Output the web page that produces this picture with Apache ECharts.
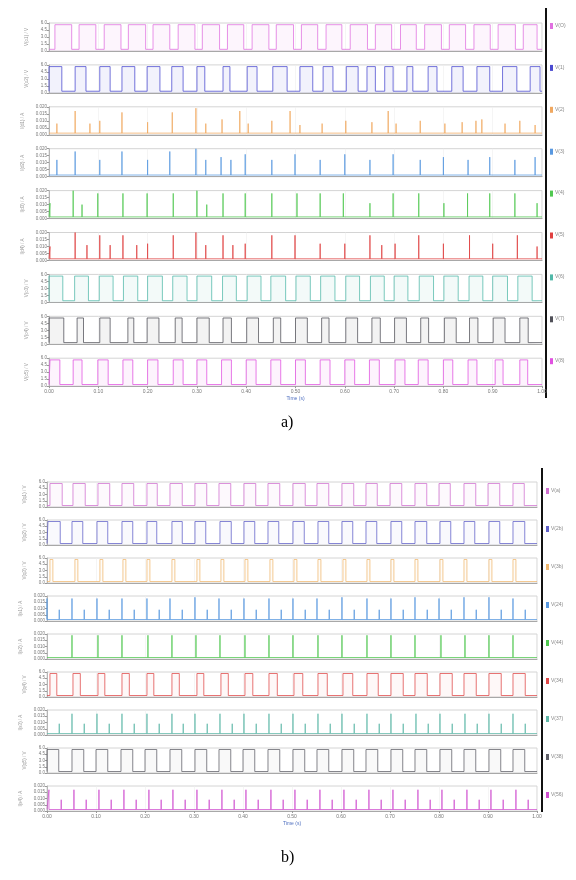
<!DOCTYPE html>
<html><head><meta charset="utf-8">
<script src="https://cdn.jsdelivr.net/npm/echarts@6.0.0/dist/echarts.min.js"></script>
<style>html,body{margin:0;padding:0;background:#fff}#c{width:576px;height:880px}</style>
</head><body><div id="c"></div>
<script>
// ---------- shared axis ticks ----------
const xTicks = ["0.00","0.10","0.20","0.30","0.40","0.50","0.60","0.70","0.80","0.90","1.00"];
const yTicksPulse = ["0.0","1.5","3.0","4.5","6.0"];
const yTicksSpike = ["0.000","0.005","0.010","0.015","0.020"];

// ---------- panel a) ----------
const aNames  = ["V(O)","V(1)","V(2)","V(3)","V(4)","V(5)","V(6)","V(7)","V(8)"];
const aYNames = ["V(o1) / V","V(o2) / V","I(d1) / A","I(d2) / A","I(d3) / A","I(d4) / A","V(o3) / V","V(o4) / V","V(o5) / V"];
const aKinds  = ["pulse","pulse","spike","spike","spike","spike","pulse","pulse","pulse"];
// square waves: alternating rising / falling edge times
const a1 = [0.012,0.046, 0.061,0.095, 0.112,0.146, 0.161,0.196, 0.211,0.245, 0.262,0.296, 0.311,0.346, 0.362,0.395, 0.412,0.446, 0.461,0.496, 0.512,0.545, 0.562,0.594, 0.611,0.646, 0.662,0.695, 0.713,0.745, 0.762,0.796, 0.812,0.845, 0.862,0.895, 0.911,0.946, 0.962,0.99];
const a2 = [0.0,0.026, 0.053,0.075, 0.103,0.124, 0.148,0.174, 0.199,0.225, 0.249,0.272, 0.3,0.316, 0.353,0.367, 0.402,0.422, 0.454,0.483, 0.509,0.535, 0.556,0.576, 0.603,0.627, 0.645,0.662, 0.681,0.698, 0.726,0.738, 0.769,0.787, 0.817,0.84, 0.868,0.894, 0.92,0.949, 0.976,0.996];
// spikes: [time, height]
const a3 = [[0.016,0.4],[0.053,0.85],[0.083,0.4],[0.103,0.5],[0.148,0.8],[0.2,0.45],[0.25,0.8],[0.298,0.95],[0.318,0.4],[0.351,0.55],[0.387,0.85],[0.404,0.4],[0.452,0.5],[0.489,0.85],[0.509,0.35],[0.554,0.4],[0.602,0.5],[0.655,0.45],[0.688,0.85],[0.704,0.4],[0.753,0.5],[0.803,0.4],[0.838,0.45],[0.866,0.5],[0.878,0.55],[0.925,0.4],[0.955,0.5],[0.986,0.35]];
const a4 = [[0.016,0.6],[0.053,0.9],[0.103,0.6],[0.148,0.9],[0.2,0.6],[0.245,0.9],[0.298,1.0],[0.318,0.6],[0.349,0.7],[0.369,0.6],[0.398,0.8],[0.452,0.6],[0.499,0.8],[0.55,0.6],[0.6,0.8],[0.651,0.6],[0.698,0.8],[0.753,0.6],[0.8,0.7],[0.85,0.6],[0.894,0.7],[0.945,0.6],[0.986,0.7]];
const a5 = [[0.002,0.55],[0.049,1.0],[0.067,0.5],[0.099,0.9],[0.15,0.9],[0.199,0.9],[0.252,0.9],[0.300,1.0],[0.32,0.5],[0.353,0.9],[0.398,0.9],[0.452,0.9],[0.503,0.9],[0.55,0.9],[0.597,0.9],[0.651,0.55],[0.698,0.9],[0.75,0.9],[0.801,0.55],[0.849,0.9],[0.894,0.9],[0.945,0.9],[0.99,0.55]];
const a6 = [[0.002,0.5],[0.053,1.0],[0.077,0.55],[0.103,0.9],[0.124,0.55],[0.15,0.9],[0.178,0.55],[0.2,0.6],[0.252,0.9],[0.298,1.0],[0.318,0.55],[0.353,0.9],[0.373,0.55],[0.398,0.6],[0.452,0.9],[0.499,0.9],[0.55,0.6],[0.6,0.6],[0.651,0.9],[0.675,0.55],[0.702,0.6],[0.75,0.9],[0.8,0.6],[0.853,0.9],[0.9,0.6],[0.95,0.9],[0.99,0.5]];
const a7 = [0.0,0.028, 0.052,0.08, 0.102,0.13, 0.151,0.18, 0.2,0.23, 0.251,0.28, 0.3,0.33, 0.352,0.38, 0.402,0.43, 0.45,0.48, 0.501,0.53, 0.551,0.58, 0.602,0.63, 0.652,0.68, 0.7,0.728, 0.751,0.78, 0.801,0.83, 0.852,0.88, 0.9,0.93, 0.951,0.98];
const a8 = [0.0,0.03, 0.057,0.07, 0.103,0.124, 0.16,0.172, 0.199,0.223, 0.256,0.27, 0.3,0.325, 0.353,0.37, 0.401,0.425, 0.455,0.47, 0.5,0.524, 0.553,0.568, 0.602,0.626, 0.655,0.672, 0.701,0.725, 0.754,0.77, 0.802,0.826, 0.853,0.87, 0.901,0.925, 0.955,0.972];
const a9 = [0.002,0.022, 0.049,0.067, 0.099,0.12, 0.15,0.17, 0.2,0.221, 0.252,0.272, 0.3,0.32, 0.35,0.37, 0.4,0.42, 0.45,0.47, 0.5,0.52, 0.55,0.57, 0.6,0.62, 0.65,0.67, 0.702,0.722, 0.749,0.769, 0.8,0.819, 0.85,0.868, 0.905,0.921, 0.955,0.971];

// ---------- panel b) ----------
const bNames  = ["V(a)","V(2b)","V(3b)","V(24)","V(44)","V(34)","V(37)","V(38)","V(56)"];
const bYNames = ["V(q1) / V","V(q2) / V","V(q3) / V","I(s1) / A","I(s2) / A","V(q4) / V","I(s3) / A","V(q5) / V","I(s4) / A"];
const bKinds  = ["pulse","pulse","pulse","spike","spike","pulse","spike","pulse","spike"];
const b1 = [0.006,0.031, 0.053,0.078, 0.104,0.128, 0.153,0.177, 0.204,0.225, 0.251,0.276, 0.302,0.326, 0.351,0.375, 0.402,0.426, 0.451,0.475, 0.502,0.527, 0.551,0.575, 0.602,0.626, 0.651,0.674, 0.700,0.724, 0.751,0.775, 0.800,0.823, 0.851,0.875, 0.900,0.924, 0.951,0.974];
const b2 = [0.002,0.027, 0.051,0.073, 0.102,0.124, 0.153,0.175, 0.204,0.224, 0.255,0.276, 0.302,0.324, 0.353,0.376, 0.402,0.424, 0.451,0.473, 0.502,0.525, 0.553,0.575, 0.602,0.624, 0.651,0.673, 0.702,0.724, 0.751,0.775, 0.802,0.824, 0.851,0.873, 0.902,0.924, 0.951,0.975];
const b3 = [0.006,0.012, 0.057,0.063, 0.108,0.114, 0.155,0.161, 0.204,0.21, 0.255,0.261, 0.306,0.312, 0.355,0.361, 0.404,0.41, 0.455,0.461, 0.504,0.51, 0.553,0.559, 0.604,0.61, 0.653,0.659, 0.702,0.708, 0.751,0.757, 0.802,0.808, 0.851,0.857, 0.902,0.908, 0.951,0.957];
const b4 = [[0.0,0.9],[0.025,0.45],[0.051,0.9],[0.076,0.45],[0.102,0.9],[0.127,0.45],[0.153,0.9],[0.178,0.45],[0.204,0.9],[0.229,0.45],[0.251,0.9],[0.276,0.45],[0.302,0.95],[0.327,0.45],[0.351,0.9],[0.376,0.45],[0.402,0.9],[0.427,0.45],[0.453,0.9],[0.478,0.45],[0.502,0.9],[0.527,0.45],[0.551,0.9],[0.576,0.45],[0.602,0.95],[0.627,0.45],[0.653,0.9],[0.678,0.45],[0.702,0.9],[0.727,0.45],[0.751,0.95],[0.776,0.45],[0.8,0.9],[0.825,0.45],[0.851,0.95],[0.876,0.45],[0.902,0.95],[0.927,0.45],[0.951,0.9],[0.976,0.45]];
const b5 = [[0.051,0.95],[0.104,0.95],[0.153,0.95],[0.206,0.95],[0.255,0.95],[0.304,0.95],[0.353,0.95],[0.404,0.95],[0.453,0.95],[0.502,0.95],[0.553,0.95],[0.602,0.95],[0.653,0.95],[0.702,0.95],[0.751,0.95],[0.804,0.95],[0.853,0.95],[0.902,0.95],[0.951,0.95]];
const b6 = [0.006,0.02, 0.053,0.068, 0.104,0.118, 0.153,0.168, 0.204,0.218, 0.255,0.27, 0.306,0.32, 0.355,0.37, 0.404,0.42, 0.453,0.47, 0.504,0.522, 0.553,0.572, 0.604,0.624, 0.653,0.676, 0.702,0.727, 0.751,0.776, 0.802,0.827, 0.851,0.876, 0.902,0.927, 0.951,0.976];
const b7 = [[0.025,0.45],[0.051,0.85],[0.076,0.45],[0.102,0.85],[0.127,0.45],[0.153,0.85],[0.178,0.45],[0.204,0.85],[0.229,0.45],[0.255,0.85],[0.278,0.45],[0.302,0.85],[0.327,0.45],[0.353,0.85],[0.378,0.45],[0.402,0.85],[0.427,0.45],[0.453,0.85],[0.478,0.45],[0.502,0.85],[0.527,0.45],[0.553,0.85],[0.578,0.45],[0.602,0.85],[0.627,0.45],[0.653,0.85],[0.678,0.45],[0.702,0.85],[0.727,0.45],[0.753,0.85],[0.778,0.45],[0.802,0.85],[0.827,0.45],[0.853,0.85],[0.878,0.45],[0.902,0.85],[0.927,0.45],[0.951,0.85],[0.976,0.45]];
const b8 = [0.0,0.024, 0.051,0.075, 0.1,0.124, 0.151,0.175, 0.2,0.224, 0.251,0.275, 0.302,0.326, 0.351,0.375, 0.4,0.424, 0.451,0.475, 0.502,0.526, 0.551,0.575, 0.602,0.626, 0.651,0.675, 0.702,0.726, 0.751,0.775, 0.802,0.826, 0.851,0.875, 0.902,0.926, 0.951,0.975];
const b9 = [[0.004,0.85],[0.029,0.45],[0.055,0.85],[0.08,0.45],[0.106,0.85],[0.131,0.45],[0.157,0.85],[0.182,0.45],[0.208,0.85],[0.233,0.45],[0.257,0.85],[0.282,0.45],[0.306,0.85],[0.331,0.45],[0.357,0.85],[0.382,0.45],[0.406,0.85],[0.431,0.45],[0.457,0.85],[0.482,0.45],[0.506,0.85],[0.531,0.45],[0.557,0.85],[0.582,0.45],[0.606,0.85],[0.631,0.45],[0.657,0.85],[0.682,0.45],[0.706,0.85],[0.731,0.45],[0.757,0.85],[0.782,0.45],[0.806,0.85],[0.831,0.45],[0.857,0.85],[0.882,0.45],[0.906,0.85],[0.931,0.45],[0.957,0.85],[0.982,0.45]];

const aData = [a1,a2,a3,a4,a5,a6,a7,a8,a9];
const bData = [b1,b2,b3,b4,b5,b6,b7,b8,b9];
const aColors = ['#e070e0','#4a4ad0','#f0a860','#5898e0','#50c850','#e04040','#50b8a8','#505058','#e050e0'];
const bColors = ['#d070d0','#6060c8','#f0b870','#5898e0','#50c850','#e04848','#60b8a8','#606068','#d050d0'];

const LOW = 0.06, HIGH = 0.94;
function pulsePoints(edges){
  const p=[[0,LOW]];
  for(let i=0;i<edges.length;i+=2){
    const r=edges[i], f=edges[i+1];
    p.push([r,LOW],[r,HIGH],[f,HIGH],[f,LOW]);
  }
  p.push([1,LOW]);
  return p;
}
function spikePoints(sp){
  const p=[[0,LOW]];
  sp.forEach(s=>{p.push([s[0],LOW],[s[0],s[1]],[s[0],LOW]);});
  p.push([1,LOW]);
  return p;
}

const chart = echarts.init(document.getElementById('c'));
const grids=[], xAxes=[], yAxes=[], series=[], graphics=[];

function addPanel(cfg){
  for(let i=0;i<9;i++){
    const idx = grids.length;
    const top = cfg.top0 + cfg.pitch*i;
    grids.push({left:cfg.left, width:cfg.width, top:top, height:cfg.h, show:true, borderColor:'#d4d4d4', borderWidth:1, backgroundColor:'rgba(0,0,0,0)'});
    const last = i===8;
    xAxes.push({type:'value', gridIndex:idx, min:0, max:1, interval:0.1,
      axisLine:{show:true, onZero:false, lineStyle:{color:'#a8a8a8', width:1}},
      axisTick:{show:last, length:2, lineStyle:{color:'#999'}},
      axisLabel:{show:last, fontSize:5, color:'#777', margin:3, formatter:(v,k)=>xTicks[Math.round(v*10)]},
      splitLine:{show:true, lineStyle:{color:'#eeeeee', width:0.6}},
      name: last ? 'Time (s)' : '', nameLocation:'middle', nameGap:10,
      nameTextStyle:{fontSize:5, color:'#5070c0'}
    });
    const labels = cfg.kinds[i]==='pulse' ? yTicksPulse : yTicksSpike;
    yAxes.push({type:'value', gridIndex:idx, min:0, max:1, interval:0.25,
      axisLine:{show:true, lineStyle:{color:'#a8a8a8', width:0.8}},
      axisTick:{show:true, length:2, lineStyle:{color:'#999'}},
      axisLabel:{fontSize:4.5, color:'#777', margin:2, formatter:(v)=>labels[Math.round(v*4)]},
      splitLine:{show:false},
      name: cfg.ynames[i], nameLocation:'middle', nameGap:20, nameRotate:90,
      nameTextStyle:{fontSize:4.5, color:'#999'}
    });
    const pts = cfg.kinds[i]==='pulse' ? pulsePoints(cfg.data[i]) : spikePoints(cfg.data[i]);
    series.push({type:'line', xAxisIndex:idx, yAxisIndex:idx, data:pts, symbol:'none',
      silent:true, animation:false,
      lineStyle:{color:cfg.colors[i], width:0.9, opacity:0.85},
      areaStyle: cfg.kinds[i]==='pulse' ? {color:cfg.colors[i], opacity:cfg.fill} : undefined
    });
    graphics.push({type:'rect', left:cfg.lineX+4, top:top+cfg.labOff, shape:{width:3,height:6}, style:{fill:cfg.colors[i]}});
    graphics.push({type:'text', left:cfg.lineX+9, top:top+cfg.labOff, style:{text:cfg.names[i], fill:'#888', font:'5px sans-serif'}});
  }
  graphics.push({type:'line', shape:{x1:cfg.lineX, y1:cfg.lineY1, x2:cfg.lineX, y2:cfg.lineY2}, style:{stroke:'#111', lineWidth:2}});
  graphics.push({type:'text', left:cfg.capX, top:cfg.capY, style:{text:cfg.caption, font:'16px "Liberation Serif", serif', fill:'#000'}});
}

addPanel({top0:23, pitch:41.9, h:28, left:49, width:493, kinds:aKinds, data:aData, colors:aColors, names:aNames, ynames:aYNames, fill:0.07,
  lineX:546, lineY1:8, lineY2:398, labOff:0, caption:'a)', capX:281, capY:415});
addPanel({top0:482, pitch:38, h:25, left:47, width:490, kinds:bKinds, data:bData, colors:bColors, names:bNames, ynames:bYNames, fill:0.04,
  lineX:542, lineY1:468, lineY2:812, labOff:6, caption:'b)', capX:281, capY:850});

chart.setOption({animation:false, backgroundColor:'#fff', grid:grids, xAxis:xAxes, yAxis:yAxes, series:series, graphic:graphics});
</script></body></html>
